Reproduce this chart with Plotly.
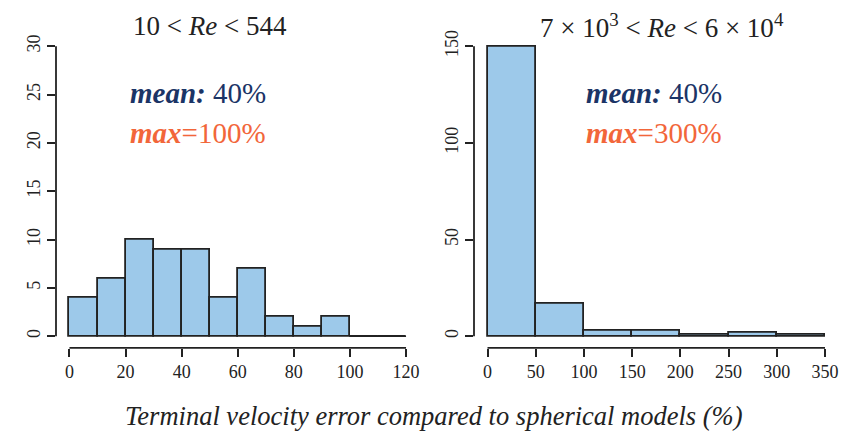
import plotly.graph_objects as go

# Left panel: 10 < Re < 544, bins of 10 from 0 to 120
left_edges = [0, 10, 20, 30, 40, 50, 60, 70, 80, 90, 100, 110, 120]
left_counts = [4, 6, 10, 9, 9, 4, 7, 2, 1, 2, 0, 0]
left_xticks = [0, 20, 40, 60, 80, 100, 120]
left_yticks = [0, 5, 10, 15, 20, 25, 30]

# Right panel: 7e3 < Re < 6e4, bins of 50 from 0 to 350
right_edges = [0, 50, 100, 150, 200, 250, 300, 350]
right_counts = [150, 17, 3, 3, 1, 2, 1]
right_xticks = [0, 50, 100, 150, 200, 250, 300, 350]
right_yticks = [0, 50, 100, 150]

FILL = "#9DC9EA"
EDGE = "#222222"
NAVY = "#1B3466"
ORANGE = "#F2663A"
FONT = "Liberation Serif, Times New Roman, serif"
W, H = 850, 436

fig = go.Figure()


def add_hist(edges, counts, xa, ya):
    centers = [(a + b) / 2 for a, b in zip(edges[:-1], edges[1:])]
    widths = [b - a for a, b in zip(edges[:-1], edges[1:])]
    fig.add_trace(go.Bar(x=centers, y=counts, width=widths,
                         marker=dict(color=FILL, line=dict(color=EDGE, width=1.8)),
                         xaxis=xa, yaxis=ya, showlegend=False, hoverinfo="skip"))
    # zero-count bins are drawn as a flat line on the baseline (as R's hist does)
    for a, b, c in zip(edges[:-1], edges[1:], counts):
        if c == 0:
            fig.add_trace(go.Scatter(x=[a, b], y=[0, 0], mode="lines",
                                     line=dict(color=EDGE, width=1.8),
                                     xaxis=xa, yaxis=ya, showlegend=False,
                                     hoverinfo="skip"))


add_hist(left_edges, left_counts, "x", "y")
add_hist(right_edges, right_counts, "x2", "y2")

ydom = [1 - 347 / H, 1 - 31 / H]
tickfont = dict(family=FONT, size=18, color="#222")


def xaxis_cfg(dom, ticks):
    span = ticks[-1] - ticks[0]
    return dict(domain=dom, range=[ticks[0] - 0.04 * span, ticks[-1] + 0.04 * span],
                tickvals=ticks, ticks="outside", ticklen=8, tickwidth=1.6,
                tickcolor=EDGE, showline=False, showgrid=False, zeroline=False,
                tickfont=tickfont, fixedrange=True)


def yaxis_cfg(ticks, anchor):
    span = ticks[-1] - ticks[0]
    return dict(domain=ydom, range=[ticks[0] - 0.04 * span, ticks[-1] + 0.04 * span],
                tickvals=ticks, ticks="outside", ticklen=8, tickwidth=1.6,
                tickcolor=EDGE, showline=False, showgrid=False, zeroline=False,
                tickangle=-90, tickfont=tickfont, anchor=anchor, fixedrange=True)


fig.update_layout(
    width=W, height=H, margin=dict(l=0, r=0, t=0, b=0),
    paper_bgcolor="white", plot_bgcolor="white", bargap=0,
    xaxis=xaxis_cfg([56 / W, 419.5 / W], left_xticks),
    yaxis=yaxis_cfg(left_yticks, "x"),
    xaxis2=xaxis_cfg([474 / W, 838.5 / W], right_xticks),
    yaxis2=yaxis_cfg(right_yticks, "x2"),
)
fig.layout.xaxis2.anchor = "y2"

# R-style detached axis lines spanning only the tick range
for xr, yr, xt, yt in [("x", "y", left_xticks, left_yticks), ("x2", "y2", right_xticks, right_yticks)]:
    fig.add_shape(type="line", xref=xr, yref=yr + " domain", x0=xt[0], x1=xt[-1], y0=0, y1=0,
                  line=dict(color=EDGE, width=1.8))
    fig.add_shape(type="line", xref=xr + " domain", yref=yr, x0=0, x1=0, y0=yt[0], y1=yt[-1],
                  line=dict(color=EDGE, width=1.8))


def note(text, xpx, ypx, size, color, xanchor="center"):
    fig.add_annotation(text=text, x=xpx / W, y=1 - ypx / H, xref="paper", yref="paper",
                       xanchor=xanchor, yanchor="middle", showarrow=False,
                       font=dict(family=FONT, size=size, color=color))


# Titles
note("10 &lt; <i>Re</i> &lt; 544", 210, 22, 27, "#222")
note("7 × 10<sup>3</sup> &lt; <i>Re</i> &lt; 6 × 10<sup>4</sup>", 662, 22, 27, "#222")

# mean / max annotations
for xpx, mx in [(128, "100%"), (584, "300%")]:
    note("<b><i>mean:</i></b> 40%", xpx, 90, 29, NAVY, "left")
    note("<b><i>max</i></b>=" + mx, xpx, 130, 29, ORANGE, "left")

note("<i>Terminal velocity error compared to spherical models (%)</i>", 433.5, 416, 26.5, "#222")

fig.write_html("out.html")
